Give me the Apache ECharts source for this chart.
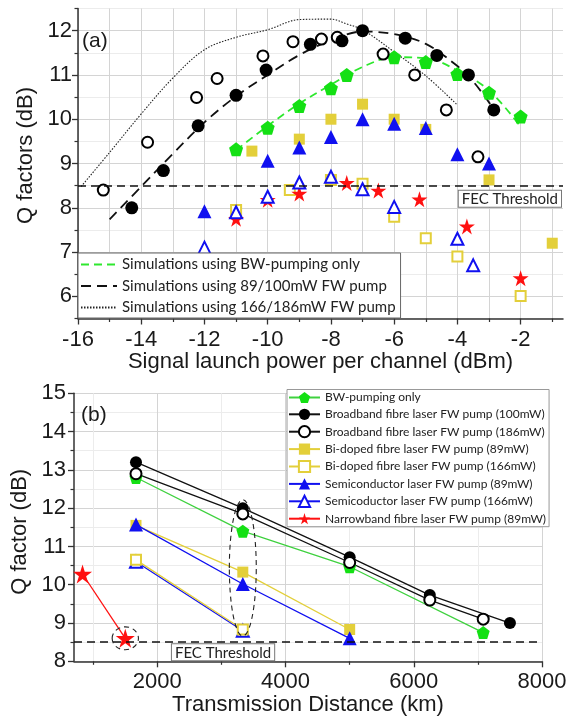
<!DOCTYPE html>
<html><head><meta charset="utf-8">
<script src="https://cdn.jsdelivr.net/npm/echarts@6/dist/echarts.min.js"></script>
<style>html,body{margin:0;padding:0;background:#fff}#c{width:574px;height:721px}</style>
</head><body><div id="c"></div>
<script>
// ===== Panel (a): Q factor vs signal launch power =====
const powerMajorTicks = [-16, -14, -12, -10, -8, -6, -4, -2];
const powerMinorTicks = [-15, -13, -11, -9, -7, -5, -3, -1];
const qaMajorTicks = [6, 7, 8, 9, 10, 11, 12];
const qaMinorTicks = [5.5, 6.5, 7.5, 8.5, 9.5, 10.5, 11.5, 12.5];

// simulation curves
const simBW_x = [-11, -10, -9, -8, -7, -6, -5, -4, -3, -2];
const simBW_y = [9.3, 9.85, 10.35, 10.78, 11.18, 11.4, 11.38, 11.1, 10.65, 9.83];
const sim89_x = [-15, -14, -13, -12, -11, -10, -9, -8, -7, -6, -5, -4, -3.5, -3, -2.9];
const sim89_y = [7.74, 8.48, 9.22, 9.93, 10.52, 11.0, 11.45, 11.78, 11.98, 11.92, 11.7, 11.2, 10.85, 10.38, 10.27];
const sim166_x = [-15.9, -15, -14, -13, -12, -11, -10, -9, -8, -7.5, -7, -6, -5, -4];
const sim166_y = [8.48, 9.25, 10.12, 10.93, 11.57, 11.85, 12.02, 12.25, 12.26, 12.15, 12.02, 11.52, 10.98, 10.32];

// measurements
const aBW_x = [-11, -10, -9, -8, -7.5, -6, -5, -4, -3, -2];
const aBW_y = [9.32, 9.81, 10.30, 10.70, 11.0, 11.40, 11.29, 11.02, 10.60, 10.06];
const aBB100_x = [-14.3, -13.3, -12.2, -11, -10.05, -8.65, -7.65, -7, -5.65, -4.65, -3.65, -2.85];
const aBB100_y = [8.0, 8.84, 9.85, 10.54, 11.11, 11.69, 11.77, 12.0, 11.83, 11.44, 11.0, 10.21];
const aBB186_x = [-15.2, -13.8, -12.25, -11.6, -10.15, -9.2, -8.3, -7.8, -6.35, -5.35, -4.35, -3.35];
const aBB186_y = [8.40, 9.48, 10.49, 10.92, 11.43, 11.75, 11.81, 11.85, 11.47, 11.0, 10.21, 9.15];
const aBi89_x = [-10.5, -9, -8, -7, -6, -5, -3, -1];
const aBi89_y = [9.28, 9.55, 10.0, 10.34, 10.0, 9.77, 8.63, 7.2];
const aBi166_x = [-11, -9.3, -8, -7, -6, -5, -4, -2];
const aBi166_y = [7.95, 8.40, 8.63, 8.54, 7.80, 7.31, 6.90, 6.01];
const aSC89_x = [-12, -10, -9, -8, -7, -6, -5, -4, -3];
const aSC89_y = [7.92, 9.06, 9.36, 9.6, 10.0, 9.9, 9.8, 9.21, 9.0];
const aSC166_x = [-12, -11, -10, -9, -8, -7, -6, -4, -3.5];
const aSC166_y = [7.1, 7.9, 8.25, 8.57, 8.7, 8.42, 8.02, 7.3, 6.7];
const aNB89_x = [-11, -10, -9, -7.5, -6.5, -5.2, -3.7, -2];
const aNB89_y = [7.75, 8.18, 8.32, 8.56, 8.39, 8.19, 7.58, 6.41];

// ===== Panel (b): Q factor vs transmission distance =====
const distMajorTicks = [2000, 4000, 6000, 8000];
const distMinorTicks = [1000, 3000, 5000, 7000];
const qbMajorTicks = [8, 9, 10, 11, 12, 13, 14, 15];
const qbMinorTicks = [8.5, 9.5, 10.5, 11.5, 12.5, 13.5, 14.5];

const bBW_x = [1667, 3333, 5000, 7083];
const bBW_y = [12.8, 11.4, 10.47, 8.75];
const bBB100_x = [1667, 3333, 5000, 6250, 7500];
const bBB100_y = [13.2, 12.0, 10.72, 9.73, 9.0];
const bBB186_x = [1667, 3333, 5000, 6250, 7083];
const bBB186_y = [12.9, 11.85, 10.58, 9.6, 9.1];
const bBi89_x = [1667, 3333, 5000];
const bBi89_y = [11.55, 10.33, 8.83];
const bBi166_x = [1667, 3333];
const bBi166_y = [10.65, 8.83];
const bSC89_x = [1667, 3333, 5000];
const bSC89_y = [11.57, 10.02, 8.6];
const bSC166_x = [1667, 3333];
const bSC166_y = [10.6, 8.8];
const bNB89_x = [833, 1500];
const bNB89_y = [10.28, 8.6];

const FEC_THRESHOLD = 8.5;

const simNames = ['Simulations using BW-pumping only', 'Simulations using 89/100mW FW pump', 'Simulations using 166/186mW FW pump'];
const legendNames = ['BW-pumping only', 'Broadband fibre laser FW pump (100mW)', 'Broadband fibre laser FW pump (186mW)',
  'Bi-doped fibre laser FW pump (89mW)', 'Bi-doped fibre laser FW pump (166mW)', 'Semiconductor laser FW pump (89mW)',
  'Semicoductor laser FW pump (166mW)', 'Narrowband fibre laser FW pump (89mW)'];

// ===== styling =====
const zip = (xs, ys) => xs.map((x, i) => [x, ys[i]]);
const PENTAGON = 'path://M50,0 L97.6,34.5 L79.4,90.5 L20.6,90.5 L2.4,34.5 Z';
const STAR = 'path://M50,0 L61.2,34.6 L97.6,34.6 L68.1,55.9 L79.4,90.5 L50,69 L20.6,90.5 L31.9,55.9 L2.4,34.6 L38.8,34.6 Z';
const GREEN = '#14e014', GREEN_LINE = '#3fd13f', YEL = '#e3cf3a', BLUE = '#1010f0', RED = '#ff1010';
const AXIS_C = '#333', GRID_C = '#d4d4d4', GRID_MINOR = '#ececec';
const TICK_FONT = 'Liberation Sans';
const LEG_FONT = 'Lato';

const kinds = {
  BW:    {symbol: PENTAGON, fill: GREEN, border: GREEN, bw: 0, line: GREEN_LINE},
  BB100: {symbol: 'circle', fill: '#000', border: '#000', bw: 0, line: '#111'},
  BB186: {symbol: 'circle', fill: '#fff', border: '#000', bw: 2, line: '#111'},
  Bi89:  {symbol: 'rect', fill: YEL, border: YEL, bw: 0, line: YEL},
  Bi166: {symbol: 'rect', fill: '#fff', border: YEL, bw: 2, line: YEL},
  SC89:  {symbol: 'triangle', fill: BLUE, border: BLUE, bw: 0, line: BLUE},
  SC166: {symbol: 'triangle', fill: '#fff', border: BLUE, bw: 2, line: BLUE},
  NB89:  {symbol: STAR, fill: RED, border: RED, bw: 0, line: RED}
};
const sizesA = {BW: 14, BB100: 13, BB186: 11, Bi89: 11, Bi166: 10, SC89: 14, SC166: 12, NB89: 16};
const sizesB = {BW: 13, BB100: 12, BB186: 11, Bi89: 11, Bi166: 10, SC89: 14, SC166: 12, NB89: 19};

function scatterA(name, key, xs, ys, z) {
  const k = kinds[key];
  return {name, type: 'scatter', xAxisIndex: 0, yAxisIndex: 0, data: zip(xs, ys), symbol: k.symbol,
    symbolSize: sizesA[key], z: z || 3, silent: true,
    itemStyle: {color: k.fill, borderColor: k.border, borderWidth: k.bw, opacity: 1}};
}
function lineB(name, key, xs, ys, z) {
  const k = kinds[key];
  return {name, type: 'line', xAxisIndex: 2, yAxisIndex: 2, data: zip(xs, ys), symbol: k.symbol,
    symbolSize: sizesB[key], showAllSymbol: true, z: z || 3, silent: true,
    lineStyle: {color: k.line, width: 1.3},
    itemStyle: {color: k.fill, borderColor: k.border, borderWidth: k.bw, opacity: 1}};
}
function simLine(name, xs, ys, color, dash, width) {
  return {name, type: 'line', xAxisIndex: 0, yAxisIndex: 0, data: zip(xs, ys), symbol: 'none',
    smooth: 0.35, z: 2, silent: true, lineStyle: {color, type: dash, width}, itemStyle: {color}};
}

const tickLabel = {fontFamily: TICK_FONT, fontSize: 22, color: '#1a1a1a'};
const nameStyle = {fontFamily: TICK_FONT, fontSize: 22, color: '#1a1a1a'};

function mainAxis(gridIndex, position, min, max, ticks, extra) {
  return Object.assign({
    type: 'value', gridIndex, position, min, max,
    axisLine: {show: true, onZero: false, lineStyle: {color: AXIS_C, width: 1.5}},
    axisTick: {show: true, inside: false, length: 6, customValues: ticks, lineStyle: {color: AXIS_C, width: 1.3}},
    axisLabel: {show: true, customValues: ticks, formatter: v => String(v), ...tickLabel},
    splitLine: {show: true, lineStyle: {color: GRID_C, width: 1}},
    nameLocation: 'middle', nameTextStyle: nameStyle
  }, extra || {});
}
function minorAxis(gridIndex, position, min, max, ticks, gridColor) {
  return {
    type: 'value', gridIndex, position, min, max,
    axisLine: {show: false, onZero: false},
    axisTick: {show: true, inside: false, length: 3.5, customValues: ticks, lineStyle: {color: AXIS_C, width: 1.2}},
    axisLabel: {show: false},
    splitLine: {show: true, lineStyle: {color: gridColor, width: 1}}
  };
}

const option = {
  animation: false,
  backgroundColor: '#fff',
  grid: [
    {left: 78, top: 8.5, width: 485, height: 310},
    {left: 74, top: 393.3, width: 468, height: 268}
  ],
  xAxis: [
    mainAxis(0, 'bottom', -16, -0.66, powerMajorTicks, {name: 'Signal launch power per channel (dBm)', nameGap: 30, axisLabel: {customValues: powerMajorTicks, formatter: v => String(v), margin: 10, ...tickLabel}}),
    minorAxis(0, 'bottom', -16, -0.66, powerMinorTicks, GRID_C),
    mainAxis(1, 'bottom', 700, 8000, distMajorTicks, {name: 'Transmission Distance (km)', nameGap: 32, axisLabel: {customValues: distMajorTicks, formatter: v => String(v), margin: 10, ...tickLabel}}),
    minorAxis(1, 'bottom', 700, 8000, distMinorTicks, GRID_MINOR)
  ],
  yAxis: [
    mainAxis(0, 'left', 5.5, 12.5, qaMajorTicks, {name: 'Q factors (dB)', nameGap: 34, nameTextStyle: Object.assign({padding: [0, 0, 0, 16]}, nameStyle), axisLabel: {customValues: qaMajorTicks, formatter: v => String(v), margin: 6, ...tickLabel}}),
    minorAxis(0, 'left', 5.5, 12.5, qaMinorTicks, GRID_MINOR),
    mainAxis(1, 'left', 8, 15, qbMajorTicks, {name: 'Q factor (dB)', nameGap: 35, nameTextStyle: Object.assign({padding: [0, 9, 0, 0]}, nameStyle), axisLabel: {customValues: qbMajorTicks, formatter: v => String(v), margin: 8, ...tickLabel}}),
    minorAxis(1, 'left', 8, 15, qbMinorTicks, GRID_MINOR)
  ],
  legend: [
    {
      data: simNames, orient: 'vertical', left: 78, top: 253, selectedMode: false,
      itemWidth: 36, itemHeight: 14, itemGap: 6.5, padding: [4, 5, 3, 2],
      itemStyle: {opacity: 0},
      backgroundColor: '#fff', borderColor: '#666', borderWidth: 1, borderRadius: 0,
      textStyle: {fontFamily: LEG_FONT, fontSize: 15, color: '#222'}
    },
    {
      data: legendNames, orient: 'vertical', left: 287, top: 389.5, selectedMode: false,
      itemWidth: 31, itemHeight: 14, itemGap: 4.8, padding: [2, 3, 2, 1],
      backgroundColor: '#fff', borderColor: '#999', borderWidth: 1, borderRadius: 0,
      textStyle: {fontFamily: LEG_FONT, fontSize: 12, color: '#222'}
    }
  ],
  series: [
    // (a) simulations
    simLine(simNames[0], simBW_x, simBW_y, '#2ee82e', [8, 5], 1.8),
    simLine(simNames[1], sim89_x, sim89_y, '#111', [10, 6], 1.8),
    simLine(simNames[2], sim166_x, sim166_y, '#222', [1.5, 1.5], 1.1),
    // FEC line (a)
    {name: 'fecA', type: 'line', xAxisIndex: 0, yAxisIndex: 0, data: [], silent: true,
      markLine: {symbol: 'none', silent: true, label: {show: false}, lineStyle: {color: '#111', type: [8, 5], width: 1.5},
        data: [{yAxis: FEC_THRESHOLD}]}},
    // (a) measurements
    scatterA('a-BW', 'BW', aBW_x, aBW_y),
    scatterA('a-Bi166', 'Bi166', aBi166_x, aBi166_y),
    scatterA('a-NB89', 'NB89', aNB89_x, aNB89_y),
    scatterA('a-SC166', 'SC166', aSC166_x, aSC166_y),
    scatterA('a-Bi89', 'Bi89', aBi89_x, aBi89_y),
    scatterA('a-SC89', 'SC89', aSC89_x, aSC89_y),
    scatterA('a-BB186', 'BB186', aBB186_x, aBB186_y),
    scatterA('a-BB100', 'BB100', aBB100_x, aBB100_y),
    // FEC line (b)
    {name: 'fecB', type: 'line', xAxisIndex: 2, yAxisIndex: 2, data: [], silent: true,
      markLine: {symbol: 'none', silent: true, label: {show: false}, lineStyle: {color: '#111', type: [8, 5], width: 1.5},
        data: [{yAxis: FEC_THRESHOLD}]}},
    // (b)
    lineB(legendNames[0], 'BW', bBW_x, bBW_y, 3),
    lineB(legendNames[1], 'BB100', bBB100_x, bBB100_y, 3),
    lineB(legendNames[2], 'BB186', bBB186_x, bBB186_y, 3),
    lineB(legendNames[3], 'Bi89', bBi89_x, bBi89_y, 3),
    lineB(legendNames[4], 'Bi166', bBi166_x, bBi166_y, 5),
    lineB(legendNames[5], 'SC89', bSC89_x, bSC89_y, 4),
    lineB(legendNames[6], 'SC166', bSC166_x, bSC166_y, 4),
    lineB(legendNames[7], 'NB89', bNB89_x, bNB89_y, 3)
  ]
};

const chart = echarts.init(document.getElementById('c'), null, {renderer: 'canvas'});
chart.setOption(option);

// annotations positioned through the axes
const pa = (x, y) => chart.convertToPixel({xAxisIndex: 0, yAxisIndex: 0}, [x, y]);
const pb = (x, y) => chart.convertToPixel({xAxisIndex: 2, yAxisIndex: 2}, [x, y]);
const fecA = pa(-2.34, FEC_THRESHOLD);
const fecB = pb(3025, FEC_THRESHOLD);
const ellC = pb(3333, 10.44), ellT = pb(3333, 12.22), ellR = pb(3333 + 210, 10.44);
const cirC = pb(1500, 8.6), cirT = pb(1500, 8.9), cirR = pb(1500 + 205, 8.6);
const labelBox = {font: '15px Lato', fill: '#222', align: 'center', verticalAlign: 'top',
  backgroundColor: '#fff', borderColor: '#777', borderWidth: 1, padding: [1, 3, 0, 3]};
chart.setOption({
  graphic: [
    {type: 'text', x: 82, y: 31, z: 50, style: {text: '(a)', font: '21px Liberation Sans', fill: '#1a1a1a'}},
    {type: 'text', x: 81, y: 405, z: 50, style: {text: '(b)', font: '21px Liberation Sans', fill: '#1a1a1a'}},
    {type: 'text', x: fecA[0], y: fecA[1] + 5, z: 50, style: Object.assign({text: 'FEC Threshold'}, labelBox)},
    {type: 'text', x: fecB[0], y: fecB[1] + 2, z: 50, style: Object.assign({text: 'FEC Threshold'}, labelBox)},
    {type: 'ellipse', z: 50, shape: {cx: ellC[0], cy: ellC[1], rx: ellR[0] - ellC[0], ry: ellC[1] - ellT[1]},
      style: {fill: 'none', stroke: '#222', lineWidth: 1.1, lineDash: [5, 4]}},
    {type: 'ellipse', z: 50, shape: {cx: cirC[0], cy: cirC[1], rx: cirR[0] - cirC[0], ry: cirC[1] - cirT[1]},
      style: {fill: 'none', stroke: '#222', lineWidth: 1.1, lineDash: [5, 4]}}
  ]
});
</script>
</body></html>
